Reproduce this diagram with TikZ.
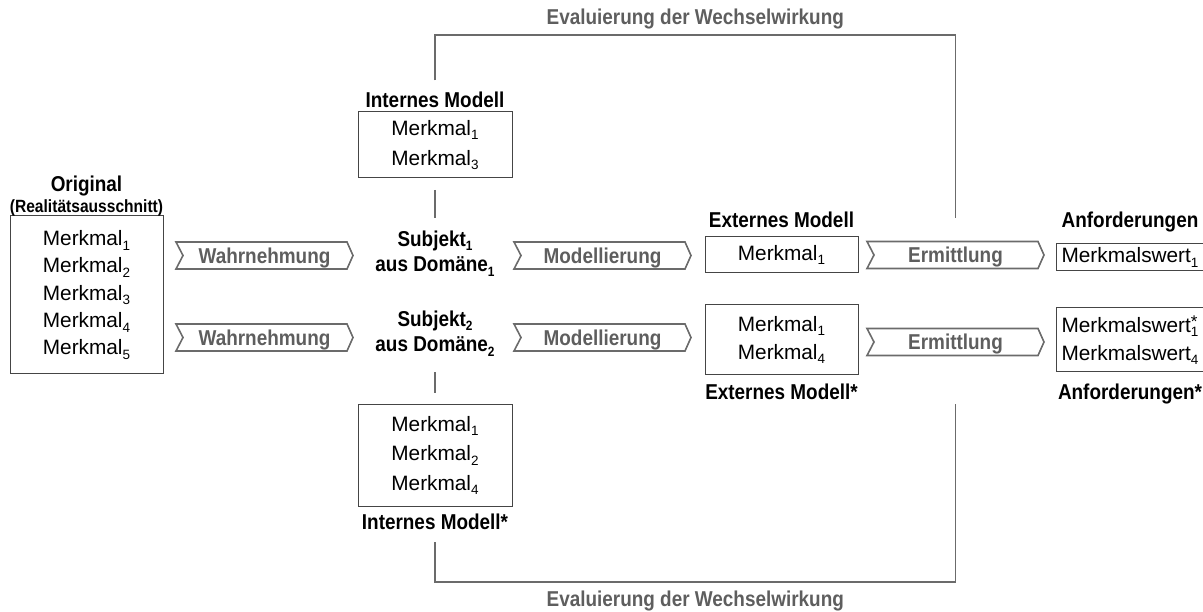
\documentclass[tikz,border=0pt]{standalone}
\usepackage{fontspec}
\setmainfont{Liberation Sans}
\newfontfamily\headfont[FakeStretch=0.88]{Liberation Sans}
\usepackage{graphicx}
\usetikzlibrary{calc}

\definecolor{boxline}{HTML}{454545}
\definecolor{grayline}{HTML}{6B6B6B}
\definecolor{graytext}{HTML}{5E5E5E}

% lowered index digits
\newcommand\sbs[1]{\raisebox{-4.5pt}{\fontsize{13.5}{13.5}\selectfont #1}}
\newcommand\mk[1]{Merkmal\sbs{#1}}
\newcommand\mw[1]{Merkmalswert\sbs{#1}}

\tikzset{
  every node/.style={inner sep=0pt, outer sep=0pt},
  featbox/.style={draw=boxline, line width=1pt, align=center,
                  font=\fontsize{20.8}{#1}\selectfont},
  featbox/.default=28,
  head/.style={font=\headfont\bfseries\fontsize{21.5}{25.5}\selectfont, align=center},
  subhead/.style={font=\headfont\bfseries\fontsize{17.7}{20}\selectfont},
  chevlab/.style={font=\headfont\bfseries\fontsize{21.5}{24}\selectfont, text=graytext},
  chevline/.style={draw=grayline, line width=1.6pt, line join=miter},
  bracket/.style={draw=grayline, line width=1.4pt},
  stem/.style={draw=grayline, line width=1.1pt},
}

% process step: label node plus its chevron outline
\newcommand\chevron[4]{%
  \node[chevlab, anchor=base] (#1) at (#2,{#3+7.7}) {#4};
  \draw[chevline] ({#2-88.5},{#3-13.5}) -- ({#2+82.5},{#3-13.5}) -- ({#2+88.5},#3)
    -- ({#2+82.5},{#3+13.5}) -- ({#2-88.5},{#3+13.5}) -- ({#2-81.5},#3) -- cycle;}

\begin{document}
\begin{tikzpicture}[x=1pt, y=-1pt]
\clip (0,0) rectangle (1203,612);

% original
\node[featbox=27.3, minimum width=153pt, minimum height=158pt] (orig) at (86.5,295)
  {\mk1\\\mk2\\\mk3\\\mk4\\\mk5};
\node[head, anchor=base] (origT) at (86.5,191.5) {Original};
\node[subhead, anchor=base] (origS) at (86.5,213) {(Realitätsausschnitt)};

% internal models
\node[featbox=30, minimum width=154pt, minimum height=66pt] (intm) at (435,145) {\mk1\\\mk3};
\node[head, anchor=base] (intmT) at (435,108) {Internes Modell};
\node[featbox=29.5, minimum width=154pt, minimum height=101pt] (intm2) at (435,455.5)
  {\mk1\\\mk2\\\mk4};
\node[head, anchor=base] (intm2T) at (435,529) {Internes Modell*};

% subjects
\node[head] (subj1) at (435,253.5) {Subjekt\sbs1\\aus Domäne\sbs1};
\node[head] (subj2) at (435,333.7) {Subjekt\sbs2\\aus Domäne\sbs2};

% external models
\node[featbox, minimum width=153pt, minimum height=36pt] (ext1) at (781.5,255) {\mk1};
\node[head, anchor=base] (ext1T) at (781.5,228) {Externes Modell};
\node[featbox=28, minimum width=153pt, minimum height=70pt] (ext2) at (781.5,340) {\mk1\\\mk4};
\node[head, anchor=base] (ext2T) at (781.5,400) {Externes Modell*};

% requirements
\node[featbox, minimum width=148pt, minimum height=27pt] (anf1) at (1130,257.5) {\mw1};
\node[head, anchor=base] (anf1T) at (1130,228) {Anforderungen};
\node[featbox=28, minimum width=148pt, minimum height=64pt] (anf2) at (1130,340)
  {Merkmalswert\makebox[0pt][l]{\raisebox{5pt}{\fontsize{17}{17}\selectfont *}}\sbs1\\\mw4};
\node[head, anchor=base] (anf2T) at (1130,400) {Anforderungen*};

% process steps
\chevron{w1}{264.5}{255.5}{Wahrnehmung}
\chevron{w2}{264.5}{337.5}{Wahrnehmung}
\chevron{m1}{602.5}{255.5}{Modellierung}
\chevron{m2}{602.5}{337.5}{Modellierung}
\chevron{e1}{955.5}{255}{Ermittlung}
\chevron{e2}{955.5}{342}{Ermittlung}

% links between internal models and subjects
\draw[stem] ([yshift=-12pt]intm.south) -- ([yshift=13pt]subj1.north);
\draw[stem] ([yshift=-16pt]subj2.south) -- ([yshift=12pt]intm2.north);

% evaluation feedback loops
\coordinate (evTop) at (0,35);
\coordinate (evBot) at (0,582);
\draw[bracket] ([yshift=12pt]intmT.north) -- (intmT |- evTop)
  -- node[above=6pt, chevlab] (evT) {Evaluierung der Wechselwirkung} (e1 |- evTop)
  -- ([yshift=29pt]e1.north);
\draw[bracket] ([yshift=-13pt]intm2T.south) -- (intm2T |- evBot)
  -- node[below=9pt, chevlab] (evB) {Evaluierung der Wechselwirkung} (e2 |- evBot)
  -- ([yshift=-50pt]e2.south);
\end{tikzpicture}
\end{document}
